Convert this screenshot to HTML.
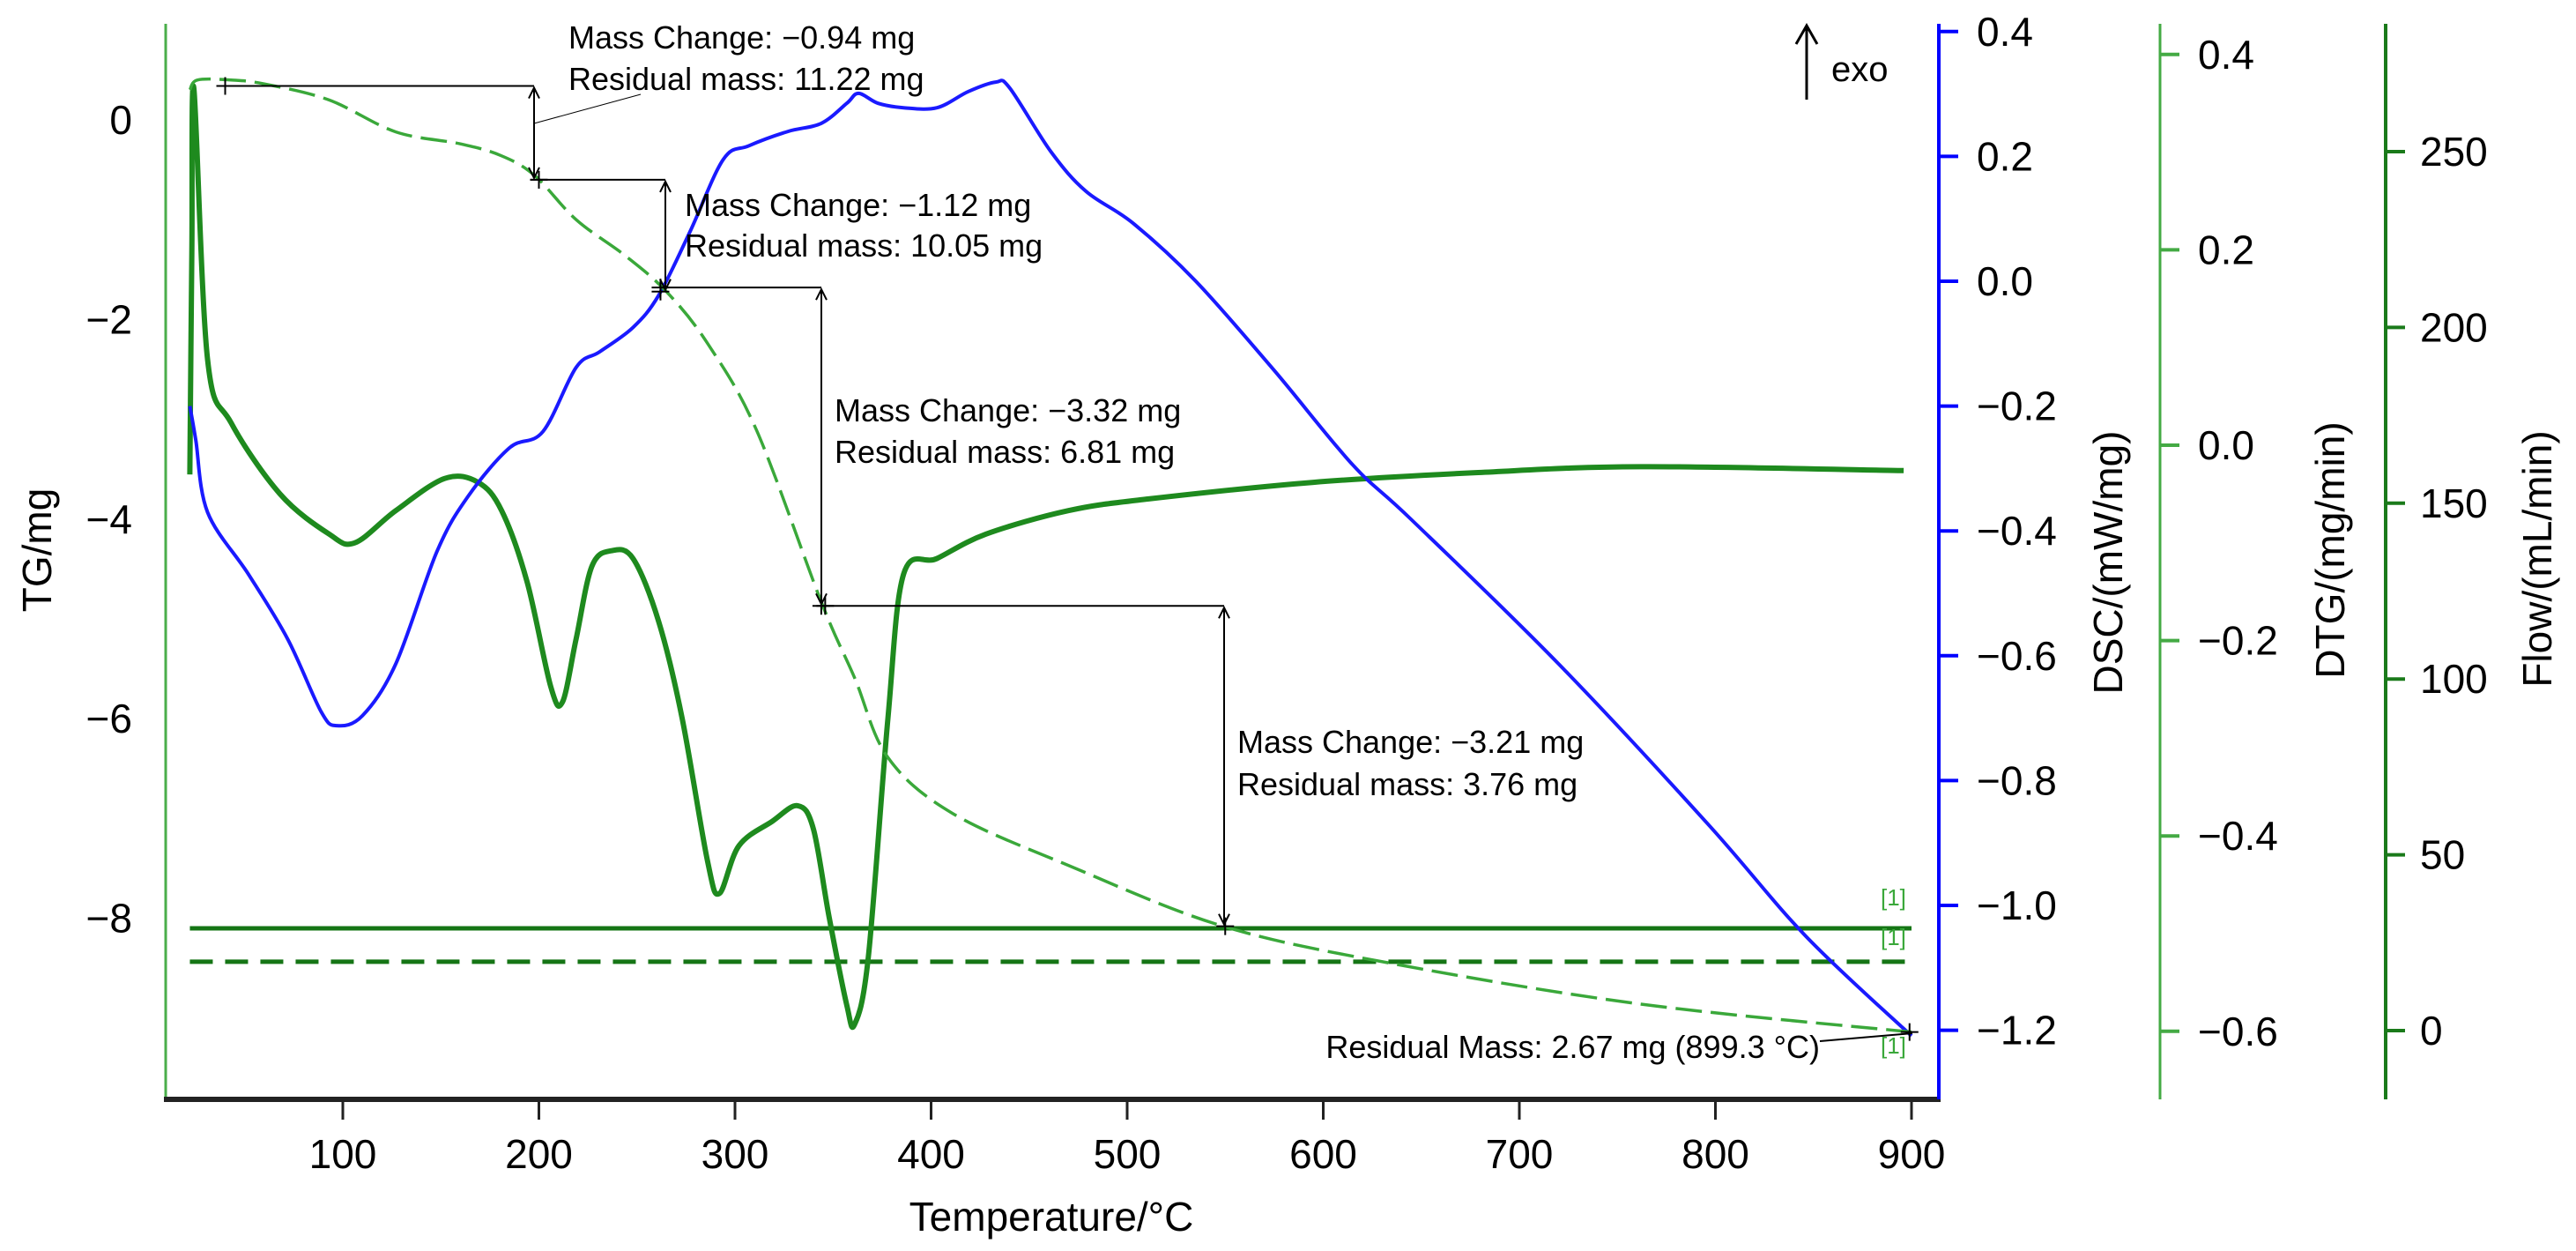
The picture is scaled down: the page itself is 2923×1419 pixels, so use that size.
<!DOCTYPE html>
<html><head><meta charset="utf-8"><style>
html,body{margin:0;padding:0;background:#fff}
svg{display:block;font-family:"Liberation Sans",sans-serif}
</style></head><body>
<svg id="chart" width="2923" height="1419" viewBox="0 0 2923 1419" xmlns="http://www.w3.org/2000/svg">
<g id="axes"></g><g id="series"></g><g id="annots"></g>
</svg>
<script>
const tgT=[22,26,43,60,93,127,160,181,198,219,244,265,286,311,344,361,378,411,470,549,637,762,900];
const tgV=[0.3,0.4,0.4,0.36,0.2,-0.12,-0.24,-0.36,-0.56,-1.0,-1.36,-1.72,-2.24,-3.11,-4.83,-5.59,-6.39,-6.95,-7.47,-8.08,-8.46,-8.86,-9.14];
const dscT=[22,25,31,52,72,89,97,110,127,148,164,185,202,219,231,248,261,277,294,307,327,344,357,363,373,386,403,419,433,440,461,479,503,535,575,615,645,720,796,846,900];
const dscV=[-0.2,-0.254,-0.37,-0.47,-0.574,-0.69,-0.712,-0.696,-0.613,-0.433,-0.344,-0.267,-0.241,-0.138,-0.113,-0.074,-0.023,0.079,0.195,0.217,0.24,0.253,0.285,0.301,0.285,0.278,0.278,0.304,0.319,0.31,0.208,0.144,0.093,0.0,-0.143,-0.294,-0.382,-0.613,-0.869,-1.049,-1.209];
const dtgT=[22,23,24,31,43,68,93,106,127,152,169,181,194,206,212,219,227,237,248,261,273,286,292,302,319,332,340,348,357,361,368,378,386,403,428,470,511,595,679,762,896];
const dtgV=[-0.03,0.2,0.366,0.088,0.023,-0.05,-0.091,-0.1,-0.067,-0.034,-0.038,-0.067,-0.14,-0.247,-0.263,-0.198,-0.124,-0.108,-0.116,-0.18,-0.279,-0.426,-0.459,-0.41,-0.385,-0.369,-0.393,-0.483,-0.573,-0.593,-0.524,-0.279,-0.132,-0.116,-0.091,-0.067,-0.055,-0.038,-0.028,-0.022,-0.026];
const flowSolid=29.1, flowDashed=19.6;
const xTicks=[100,200,300,400,500,600,700,800,900];
const tgTicks=[0,-2,-4,-6,-8];
const dscTicks=[0.4,0.2,0.0,-0.2,-0.4,-0.6,-0.8,-1.0,-1.2];
const dtgTicks=[0.4,0.2,0.0,-0.2,-0.4,-0.6];
const flowTicks=[0,50,100,150,200,250];
const steps=[{t0:40,v0:0.34,t1:200,v1:-0.6,lab:["Mass Change: \u22120.94 mg","Residual mass: 11.22 mg"]},
{t0:200,v0:-0.6,t1:262,v1:-1.72,lab:["Mass Change: \u22121.12 mg","Residual mass: 10.05 mg"]},
{t0:262,v0:-1.68,t1:344,v1:-4.87,lab:["Mass Change: \u22123.32 mg","Residual mass: 6.81 mg"]},
{t0:346,v0:-4.87,t1:550,v1:-8.08,lab:["Mass Change: \u22123.21 mg","Residual mass: 3.76 mg"]}];

const X=t=>389+(t-100)*2.225;
const Ytg=v=>136-v*113.2;
const Ydsc=v=>319-v*708;
const Ydtg=v=>505-v*1108;
const Yflow=v=>1169-v*3.988;
const NS="http://www.w3.org/2000/svg";
function mk(tag,attrs,parent,text){const e=document.createElementNS(NS,tag);for(const k in attrs)e.setAttribute(k,attrs[k]);if(text!==undefined)e.textContent=text;parent.appendChild(e);return e;}
const axes=document.getElementById('axes'),ser=document.getElementById('series'),an=document.getElementById('annots');
let e;
e=mk('line',{x1:188,y1:27,x2:188,y2:1247,stroke:'#4aae4a','stroke-width':3},axes);


e=mk('line',{x1:186,y1:1247,x2:2202,y2:1247,stroke:'#222','stroke-width':6},axes);


e=mk('line',{x1:2200,y1:27,x2:2200,y2:1247,stroke:'#0000ff','stroke-width':4},axes);


e=mk('line',{x1:2451,y1:27,x2:2451,y2:1247,stroke:'#44aa44','stroke-width':3},axes);


e=mk('line',{x1:2707,y1:27,x2:2707,y2:1247,stroke:'#1a7a1a','stroke-width':4},axes);


xTicks.forEach(t=>{mk('line',{x1:X(t),y1:1250,x2:X(t),y2:1270,stroke:'#222','stroke-width':3},axes);
e=mk('text',{x:X(t),y:1325,'font-size':46,'text-anchor':'middle'},axes,String(t));

});
tgTicks.forEach(v=>{e=mk('text',{x:150,y:Ytg(v)+16,'font-size':46,'text-anchor':'end'},axes,v<0?'\u2212'+(-v):String(v));

});
dscTicks.forEach(v=>{mk('line',{x1:2200,y1:Ydsc(v),x2:2222,y2:Ydsc(v),stroke:'#0000ff','stroke-width':4},axes);
e=mk('text',{x:2243,y:Ydsc(v)+16,'font-size':46},axes,(v<0?'\u2212':'')+Math.abs(v).toFixed(1));

});
dtgTicks.forEach(v=>{mk('line',{x1:2451,y1:Ydtg(v),x2:2473,y2:Ydtg(v),stroke:'#44aa44','stroke-width':4},axes);
e=mk('text',{x:2494,y:Ydtg(v)+16,'font-size':46},axes,(v<0?'\u2212':'')+Math.abs(v).toFixed(1));

});
flowTicks.forEach(v=>{mk('line',{x1:2707,y1:Yflow(v),x2:2729,y2:Yflow(v),stroke:'#1a7a1a','stroke-width':4},axes);
e=mk('text',{x:2746,y:Yflow(v)+16,'font-size':46},axes,String(v));

});
function vtitle(x,y,s,name){const t=mk('text',{x:x,y:y,'font-size':46,'text-anchor':'middle',transform:`rotate(-90 ${x} ${y})`},axes,s);

}
vtitle(58,624,'TG/mg','tg-axis-title');
vtitle(2408,638,'DSC/(mW/mg)','dsc-axis-title');
vtitle(2660,624,'DTG/(mg/min)','dtg-axis-title');
vtitle(2895,634,'Flow/(mL/min)','flow-axis-title');
e=mk('text',{x:1193,y:1396,'font-size':46,'text-anchor':'middle'},axes,'Temperature/\u00b0C');


e=mk('line',{x1:X(22),y1:Yflow(flowSolid),x2:X(900),y2:Yflow(flowSolid),stroke:'#157515','stroke-width':5},ser);


e=mk('line',{x1:X(22),y1:Yflow(flowDashed),x2:X(900),y2:Yflow(flowDashed),stroke:'#157515','stroke-width':5,'stroke-dasharray':'26 14'},ser);


function smooth(T,V,fy){const p=T.map((t,i)=>[X(t),fy(V[i])]);let d=`M${p[0][0].toFixed(1)},${p[0][1].toFixed(1)}`;
for(let i=0;i<p.length-1;i++){const p0=p[Math.max(0,i-1)],p1=p[i],p2=p[i+1],p3=p[Math.min(p.length-1,i+2)];
const c1=[p1[0]+(p2[0]-p0[0])/6,p1[1]+(p2[1]-p0[1])/6],c2=[p2[0]-(p3[0]-p1[0])/6,p2[1]-(p3[1]-p1[1])/6];
d+=`C${c1[0].toFixed(1)},${c1[1].toFixed(1)} ${c2[0].toFixed(1)},${c2[1].toFixed(1)} ${p2[0].toFixed(1)},${p2[1].toFixed(1)}`;}return d;}
e=mk('path',{d:smooth(dtgT,dtgV,Ydtg),fill:'none',stroke:'#1e8a1e','stroke-width':6,'stroke-linejoin':'round'},ser);


e=mk('path',{d:smooth(dscT,dscV,Ydsc),fill:'none',stroke:'#1a1aff','stroke-width':4,'stroke-linejoin':'round'},ser);


e=mk('path',{d:smooth(tgT,tgV,Ytg),fill:'none',stroke:'#3aa83a','stroke-width':3.5,'stroke-dasharray':'30 10'},ser);


[[1027],[1072],[1195]].forEach(a=>{e=mk('text',{x:2134,y:a[0],'font-size':26,fill:'#3aa83a'},an,'[1]');

});
function cross(x,y){mk('path',{d:`M${x-10},${y}h20M${x},${y-10}v20`,stroke:'#000','stroke-width':2},an);}
const arrX=[606,755,932,1389];
steps.forEach((s,i)=>{const y0=Ytg(s.v0),y1=Ytg(s.v1),ax=arrX[i];
mk('line',{x1:X(s.t0),y1:y0,x2:ax,y2:y0,stroke:'#000','stroke-width':2},an);
e=mk('line',{x1:ax,y1:y0+2,x2:ax,y2:y1-2,stroke:'#000','stroke-width':2},an);


mk('path',{d:`M${ax-6},${y0+14}L${ax},${y0+2}L${ax+6},${y0+14}M${ax-6},${y1-14}L${ax},${y1-2}L${ax+6},${y1-14}`,fill:'none',stroke:'#000','stroke-width':2},an);
cross(X(s.t0),y0);cross(X(s.t1),y1);
if(i===0)mk('line',{x1:ax,y1:140,x2:727,y2:107},an).setAttribute('stroke','#000');
});
const labPos=[[645,55,102],[777,245,291],[947,478,525],[1404,854,902]];
steps.forEach((s,i)=>{const p=labPos[i];
e=mk('text',{x:p[0],y:p[1],'font-size':36},an,s.lab[0]);


e=mk('text',{x:p[0],y:p[2],'font-size':36},an,s.lab[1]);

});
cross(X(899),Ytg(-9.14));
mk('line',{x1:2065,y1:1181,x2:2170,y2:1172,stroke:'#000','stroke-width':2},an);
e=mk('text',{x:2065,y:1200,'font-size':36,'text-anchor':'end'},an,'Residual Mass: 2.67 mg (899.3 \u00b0C)');


mk('path',{d:'M2050,113V29M2038,50L2050,29L2062,50',fill:'none',stroke:'#000','stroke-width':3},an);
e=mk('text',{x:2078,y:92,'font-size':40},an,'exo');


</script>
</body></html>
